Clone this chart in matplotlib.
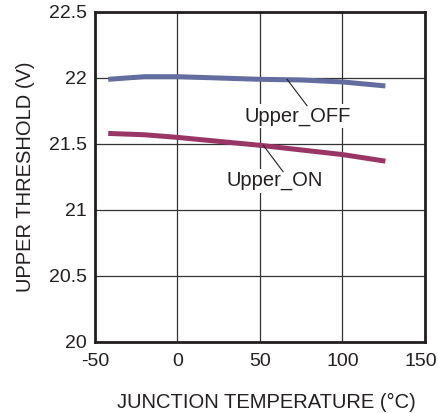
import matplotlib
matplotlib.use('Agg')
import matplotlib.pyplot as plt
import matplotlib.transforms as mtransforms

plt.rcParams['font.family'] = ['Liberation Sans', 'DejaVu Sans']
plt.rcParams['axes.unicode_minus'] = False

# junction temperature (°C)
temp = [-42, -20, 0, 25, 50, 75, 100, 126]
# upper threshold (V)
upper_off = [21.99, 22.01, 22.01, 22.00, 21.99, 21.985, 21.97, 21.94]
upper_on = [21.58, 21.57, 21.55, 21.52, 21.49, 21.455, 21.42, 21.37]

x_ticks = [-50, 0, 50, 100, 150]
y_ticks = [20, 20.5, 21, 21.5, 22, 22.5]
y_tick_labels = ['20', '20.5', '21', '21.5', '22', '22.5']

fig = plt.figure(figsize=(4.39, 4.13), dpi=100)
ax = fig.add_axes([95 / 439, 1 - 342 / 413, 330 / 439, 330 / 413])

ax.plot(temp, upper_off, color='#636d9f', lw=3.6, solid_capstyle='butt', zorder=3)
ax.plot(temp, upper_on, color='#9a3666', lw=3.6, solid_capstyle='butt', zorder=3)

ax.set_xlim(-50, 150)
ax.set_ylim(20, 22.5)
ax.set_xticks(x_ticks)
ax.set_yticks(y_ticks)
ax.set_yticklabels(y_tick_labels)
ax.grid(True, color='#333333', lw=0.9)
ax.set_axisbelow(True)
ax.tick_params(length=0, labelsize=14, colors='#231f20')
ax.tick_params(axis='y', pad=6)
ax.tick_params(axis='x', pad=8)
for s in ax.spines.values():
    s.set_linewidth(2)
    s.set_color('#231f20')

# nudge the last x tick label so it stays inside the figure
last = ax.get_xticklabels()[-1]
last.set_transform(last.get_transform() + mtransforms.ScaledTranslation(-4 / 100, 0, fig.dpi_scale_trans))

# labels with leader lines
ax.text(73, 21.71, 'Upper_OFF', ha='center', va='center', fontsize=14.5, color='#231f20',
        bbox=dict(boxstyle='square,pad=0.12', fc='white', ec='none'), zorder=2)
ax.plot([66.4, 78.5], [21.99, 21.79], color='#231f20', lw=0.8, zorder=4)
ax.text(59, 21.22, 'Upper_ON', ha='center', va='center', fontsize=14.5, color='#231f20',
        bbox=dict(boxstyle='square,pad=0.12', fc='white', ec='none'), zorder=2)
ax.plot([52, 64], [21.49, 21.29], color='#231f20', lw=0.8, zorder=4)

ax.set_xlabel('JUNCTION TEMPERATURE (°C)', fontsize=14.5, color='#231f20', labelpad=13)
ax.xaxis.set_label_coords(0.52, -0.155)
ax.set_ylabel('UPPER THRESHOLD (V)', fontsize=14.5, color='#231f20', labelpad=10)

fig.savefig('out.png', dpi=100)
